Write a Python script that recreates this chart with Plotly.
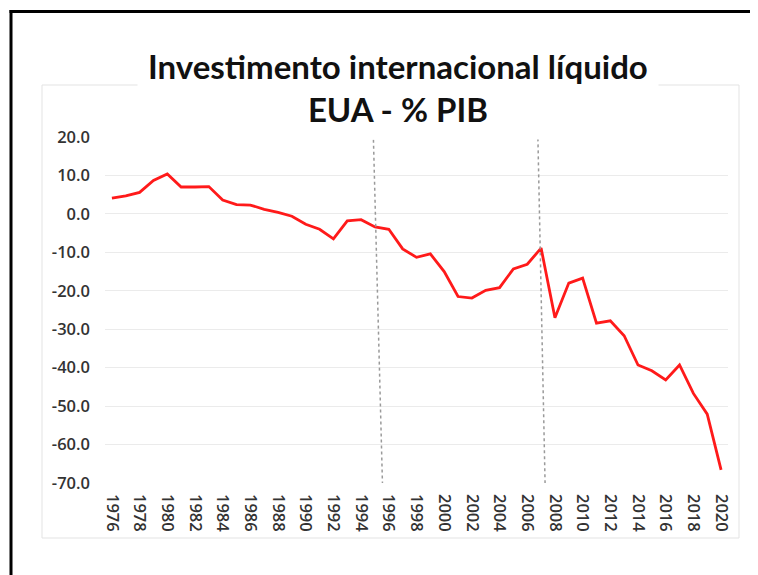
import plotly.graph_objects as go

years = list(range(1976, 2021))
niip_pct_gdp = [4.1, 4.7, 5.6, 8.7, 10.4, 7.0, 7.0, 7.1, 3.6, 2.4,
                2.3, 1.2, 0.4, -0.6, -2.7, -4.0, -6.5, -1.8, -1.5, -3.4,
                -4.0, -9.1, -11.3, -10.4, -15.0, -21.5, -21.9, -19.9, -19.2, -14.3,
                -13.1, -8.9, -27.0, -18.0, -16.7, -28.4, -27.8, -31.7, -39.3, -40.8,
                -43.2, -39.3, -46.7, -52.1, -66.6]
y_ticks = [20, 10, 0, -10, -20, -30, -40, -50, -60, -70]
x_ticks = list(range(1976, 2021, 2))
title_lines = ["Investimento internacional líquido", "EUA - % PIB"]

# marker lines (hand-drawn, slightly slanted): (x_top, y_top, x_bottom, y_bottom)
marker_lines = [(1994.89, 19.3, 1995.54, -70.0), (2006.76, 21.2, 2007.29, -70.5)]

# page is rendered with an 8px body margin -> work in figure pixels = page pixels - 8
OFF = 8
PL, PR, PT, PB = 105 - OFF, 728 - OFF, 137 - OFF, 483 - OFF
W, H = 758 - OFF, 575 - OFF
PW, PH = PR - PL, PB - PT


def px(x):
    return (x - OFF - PL) / PW


def py(y):
    return (PB - (y - OFF)) / PH


fig = go.Figure()
fig.add_trace(go.Scatter(x=years, y=niip_pct_gdp, mode="lines",
                         line=dict(color="#ff1a1a", width=2.8), showlegend=False,
                         hoverinfo="x+y"))

shapes = []
for x0, y0, x1, y1 in marker_lines:
    shapes.append(dict(type="line", xref="x", yref="y", x0=x0, y0=y0, x1=x1, y1=y1,
                       line=dict(color="#9a9a9a", width=1.5, dash="dot"), layer="above"))
# chart box (light grey)
shapes.append(dict(type="rect", xref="paper", yref="paper",
                   x0=px(42), x1=px(739), y0=py(538), y1=py(85),
                   line=dict(color="#e3e3e3", width=1), layer="below"))
# black frame (top and left)
shapes.append(dict(type="line", xref="paper", yref="paper",
                   x0=px(9.5), x1=px(770), y0=py(11.5), y1=py(11.5),
                   line=dict(color="black", width=3)))
shapes.append(dict(type="line", xref="paper", yref="paper",
                   x0=px(11), x1=px(11), y0=py(10), y1=py(590),
                   line=dict(color="black", width=3)))

tick_font = dict(family="Open Sans", size=16.5, color="#333333", weight=600)

fig.update_layout(
    width=W, height=H,
    margin=dict(l=PL, r=W - PR, t=PT, b=H - PB),
    paper_bgcolor="white", plot_bgcolor="white",
    shapes=shapes,
    annotations=[dict(
        text="<b>" + title_lines[0] + "</b><br><b>" + title_lines[1] + "</b>",
        xref="paper", yref="paper",
        x=px(398), y=py(88),
        xanchor="center", yanchor="middle", showarrow=False,
        font=dict(family="Lato", size=33, color="#111111"),
        bgcolor="white", borderpad=10, align="center")],
    xaxis=dict(range=[1975.5, 2020.5], tickmode="array", tickvals=x_ticks,
               ticktext=[str(t) for t in x_ticks], tickangle=90,
               showgrid=False, zeroline=False, showline=False, ticks="",
               tickfont=tick_font, ticklabelstandoff=10),
    yaxis=dict(range=[-70, 20], tickmode="array", tickvals=y_ticks,
               ticktext=[f"{v:.1f}" for v in y_ticks],
               showgrid=True, gridcolor="#ebebeb", gridwidth=1,
               zeroline=False, showline=False, ticks="",
               tickfont=tick_font, ticklabelstandoff=14),
)

fig.write_html("out.html")
